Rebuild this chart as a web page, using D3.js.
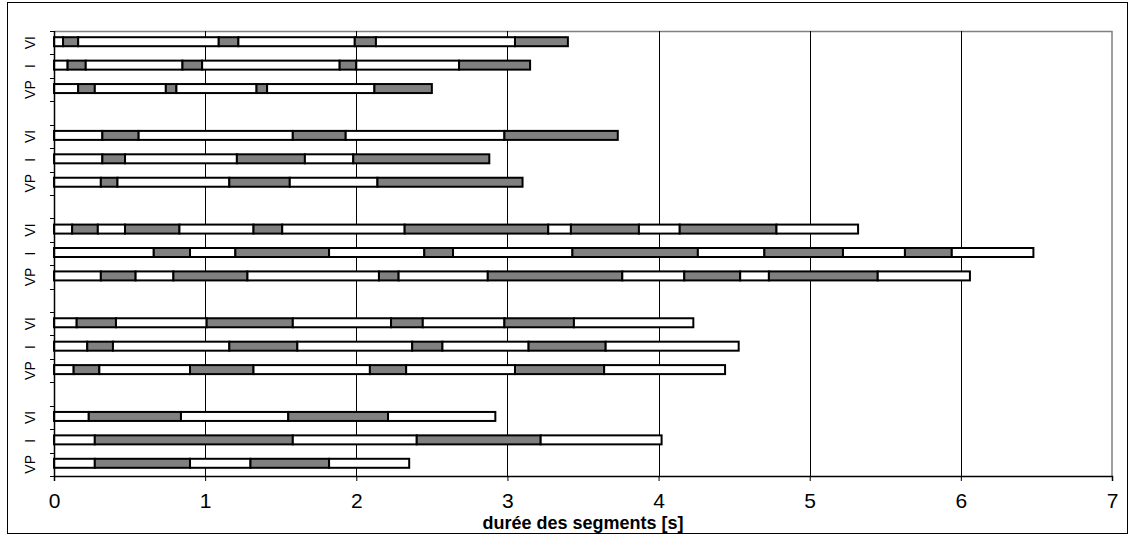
<!DOCTYPE html>
<html>
<head>
<meta charset="utf-8">
<script src="https://cdn.jsdelivr.net/npm/d3@7"></script>
<style>
  body { margin: 0; background: #fff; }
  text { font-family: "Liberation Sans", Arial, sans-serif; }
</style>
</head>
<body>
<svg id="chart" width="1131" height="536"></svg>
<script>
// segment end times [s], each row alternates white / grey starting with white
var ROW_LABELS = ["VI", "I", "VP"];
var X_TICKS = [0, 1, 2, 3, 4, 5, 6, 7];
var AXIS_TITLE = "durée des segments [s]";

var group1 = [
    [0.06, 0.16, 1.09, 1.22, 1.99, 2.13, 3.05, 3.40],
    [0.09, 0.21, 0.85, 0.98, 1.89, 2.00, 2.68, 3.15],
    [0.16, 0.27, 0.74, 0.81, 1.34, 1.41, 2.12, 2.50]
];
var group2 = [
    [0.32, 0.56, 1.58, 1.93, 2.98, 3.73],
    [0.32, 0.47, 1.21, 1.66, 1.98, 2.88],
    [0.31, 0.42, 1.16, 1.56, 2.14, 3.10]
];
var group3 = [
    [0.12, 0.29, 0.47, 0.83, 1.32, 1.51, 2.32, 3.27, 3.42, 3.87, 4.14, 4.78, 5.32],
    [0.66, 0.90, 1.20, 1.82, 2.45, 2.64, 3.43, 4.26, 4.70, 5.22, 5.63, 5.94, 6.48],
    [0.31, 0.54, 0.79, 1.28, 2.15, 2.28, 2.87, 3.76, 4.17, 4.54, 4.73, 5.45, 6.06]
];
var group4 = [
    [0.15, 0.41, 1.01, 1.58, 2.23, 2.44, 2.98, 3.44, 4.23],
    [0.22, 0.39, 1.16, 1.61, 2.37, 2.57, 3.14, 3.65, 4.53],
    [0.13, 0.30, 0.90, 1.32, 2.09, 2.33, 3.05, 3.64, 4.44]
];
var group5 = [
    [0.23, 0.84, 1.55, 2.21, 2.92],
    [0.27, 1.58, 2.40, 3.22, 4.02],
    [0.27, 0.90, 1.30, 1.82, 2.35]
];
var GROUPS = [group1, group2, group3, group4, group5];

var MARGIN = {left: 54, top: 31, right: 19, bottom: 60};
var WIDTH = 1131, HEIGHT = 536;
var BODY_W = WIDTH - MARGIN.left - MARGIN.right;
var BODY_H = HEIGHT - MARGIN.top - MARGIN.bottom;

// build the category list (top to bottom) with empty gap slots between groups
var cats = [];
var rows = [];
GROUPS.forEach(function(g, gi) {
    if (gi > 0) cats.push({key: "gap" + gi, label: ""});
    g.forEach(function(ends, ri) {
        var key = "g" + gi + "r" + ri;
        cats.push({key: key, label: ROW_LABELS[ri]});
        var start = 0;
        ends.forEach(function(e, si) {
            rows.push({key: key, x0: start, x1: e, grey: si % 2 === 1});
            start = e;
        });
    });
});

var svg = d3.select("#chart");

svg.append("rect")
    .attr("x", 7.5).attr("y", 2.5)
    .attr("width", 1120).attr("height", 531)
    .attr("fill", "none").attr("stroke", "#000").attr("stroke-width", 1);

var xScale = d3.scaleLinear().domain([0, 7]).range([0, BODY_W]);
var yScale = d3.scaleBand().domain(cats.map(d => d.key)).range([0, BODY_H]);

var chart = svg.append("g")
    .attr("transform", `translate(${MARGIN.left}, ${MARGIN.top})`);

// plot frame (top and right, grey)
chart.append("path")
    .attr("d", `M0,0.5H${BODY_W}V${BODY_H}`)
    .attr("fill", "none").attr("stroke", "#808080").attr("stroke-width", 1.5);

// vertical gridlines
chart.selectAll(".grid")
    .data(X_TICKS.filter(t => t > 0 && t < 7))
    .enter().append("line")
    .attr("x1", d => Math.round(xScale(d)) + 0.5)
    .attr("x2", d => Math.round(xScale(d)) + 0.5)
    .attr("y1", 0).attr("y2", BODY_H)
    .attr("stroke", "#000").attr("stroke-width", 1);

// bars
var barH = 9;
chart.selectAll(".seg")
    .data(rows)
    .enter().append("rect")
    .attr("x", d => xScale(d.x0))
    .attr("width", d => xScale(d.x1) - xScale(d.x0))
    .attr("y", d => yScale(d.key) + yScale.bandwidth() / 2 - barH / 2 - 1)
    .attr("height", barH)
    .attr("fill", d => d.grey ? "#808080" : "#fff")
    .attr("stroke", "#000")
    .attr("stroke-width", 2);

// x axis
var xAxis = d3.axisBottom(xScale).tickValues(X_TICKS).tickSize(5).tickPadding(12).tickFormat(d => "" + d);
var gx = chart.append("g")
    .attr("transform", `translate(0, ${BODY_H})`)
    .call(xAxis);
gx.attr("font-size", 21).attr("font-family", "'Liberation Sans', Arial, sans-serif");
gx.select(".domain").attr("stroke", "#000").attr("stroke-width", 1.5);
gx.selectAll("line").attr("stroke", "#000");
gx.selectAll("text").attr("fill", "#000");

// y axis with Excel-style ticks between categories
chart.append("line")
    .attr("x1", 0.5).attr("x2", 0.5).attr("y1", 0).attr("y2", BODY_H)
    .attr("stroke", "#000").attr("stroke-width", 1.5);
var bounds = cats.map(d => yScale(d.key)).concat([BODY_H]);
chart.selectAll(".ytick")
    .data(bounds)
    .enter().append("line")
    .attr("x1", -4).attr("x2", 0)
    .attr("y1", d => Math.round(d) + 0.5).attr("y2", d => Math.round(d) + 0.5)
    .attr("stroke", "#000");

chart.selectAll(".ylab")
    .data(cats.filter(d => d.label !== ""))
    .enter().append("text")
    .attr("transform", d => `translate(-19, ${yScale(d.key) + yScale.bandwidth() / 2}) rotate(-90)`)
    .attr("text-anchor", "middle")
    .attr("font-size", 14)
    .attr("fill", "#000")
    .text(d => d.label);

// axis title
svg.append("text")
    .attr("x", MARGIN.left + BODY_W / 2)
    .attr("y", 529)
    .attr("text-anchor", "middle")
    .attr("font-size", 18)
    .attr("font-weight", "bold")
    .text(AXIS_TITLE);
</script>
</body>
</html>
